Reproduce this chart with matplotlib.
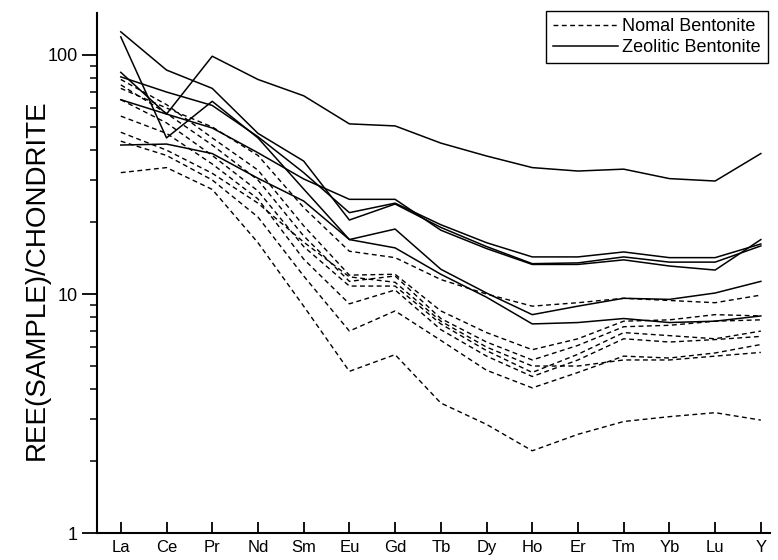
import numpy as np
import matplotlib.pyplot as plt
from matplotlib.ticker import FixedLocator, NullFormatter

plt.rcParams['font.family'] = ['Liberation Sans', 'DejaVu Sans']

elements = ["La", "Ce", "Pr", "Nd", "Sm", "Eu", "Gd", "Tb", "Dy", "Ho", "Er", "Tm", "Yb", "Lu", "Y"]

# normal bentonite (dashed)
nomal_1 = [72.5, 60, 50, 38, 23, 15.1, 14.2, 11.5, 10.0, 8.9, 9.2, 9.6, 9.4, 9.2, 9.9]
nomal_2 = [79, 62, 45, 33, 19.3, 12.0, 12.1, 8.5, 6.9, 5.85, 6.5, 7.7, 7.8, 8.2, 8.1]
nomal_3 = [75, 57, 42, 30, 17.5, 11.3, 11.9, 7.9, 6.3, 5.3, 6.1, 7.3, 7.4, 7.7, 7.8]
nomal_4 = [65, 52, 38, 27, 15.8, 10.8, 10.8, 7.5, 5.8, 4.7, 5.6, 6.9, 6.7, 6.5, 7.0]
nomal_5 = [55.5, 47, 35, 25, 14, 9.1, 10.4, 7.1, 5.5, 4.52, 5.3, 6.5, 6.3, 6.45, 6.65]
nomal_6 = [43.6, 38, 30, 21, 11.9, 7.0, 8.5, 6.4, 4.8, 4.05, 4.7, 5.5, 5.4, 5.67, 6.15]
nomal_7 = [47.5, 40, 32, 24, 16.5, 11.8, 11.2, 7.7, 6.0, 5.0, 5.0, 5.3, 5.3, 5.5, 5.7]
nomal_8 = [32.2, 33.8, 27.4, 16.4, 8.9, 4.75, 5.58, 3.5, 2.85, 2.21, 2.59, 2.93, 3.07, 3.19, 2.97]

# zeolitic bentonite (solid)
zeo_1 = [84.6, 56.6, 98.8, 79, 67.5, 51.5, 50.5, 42.8, 37.8, 33.8, 32.7, 33.3, 30.4, 29.7, 38.7]
zeo_2 = [125, 86.5, 72.5, 47, 36, 20.4, 23.8, 19.0, 15.8, 13.4, 13.5, 14.3, 13.6, 13.6, 15.9]
zeo_3 = [119, 45, 64, 45, 27.5, 16.9, 15.6, 12.1, 9.7, 7.5, 7.6, 7.9, 7.6, 7.7, 8.1]
zeo_4 = [81, 70, 61.5, 45.5, 32.2, 21.9, 24.0, 19.5, 16.4, 14.3, 14.3, 15.0, 14.2, 14.2, 16.2]
zeo_5 = [65, 56.6, 49.5, 39, 30.3, 24.9, 24.9, 18.5, 15.5, 13.3, 13.3, 13.9, 13.1, 12.6, 16.9]
zeo_6 = [42, 42.4, 38.7, 30.5, 24.5, 16.9, 18.7, 12.7, 10.1, 8.2, 8.9, 9.6, 9.5, 10.1, 11.3]

nomal = [nomal_1, nomal_2, nomal_3, nomal_4, nomal_5, nomal_6, nomal_7, nomal_8]
zeolitic = [zeo_1, zeo_2, zeo_3, zeo_4, zeo_5, zeo_6]

fig = plt.figure(figsize=(7.78, 5.60), dpi=100)
ax = fig.add_axes([0.1247, 0.048, 0.865, 0.929])

x = np.arange(len(elements))

for i, vals in enumerate(nomal):
    ax.plot(x, vals, color="black", lw=1.0, linestyle=(0, (3.5, 2.5)),
            label="Nomal Bentonite" if i == 0 else None)

for i, vals in enumerate(zeolitic):
    ax.plot(x, vals, color="black", lw=1.1,
            label="Zeolitic Bentonite" if i == 0 else None)

ax.set_yscale("log")
ax.set_ylim(1, 150)
ax.set_xlim(-0.52, 14.2)

ax.yaxis.set_major_locator(FixedLocator([1, 10, 100]))
ax.set_yticklabels(["1", "10", "100"])
ax.yaxis.set_minor_locator(FixedLocator([m * d for d in (1, 10, 100) for m in range(2, 10) if m * d < 150]))
ax.yaxis.set_minor_formatter(NullFormatter())

ax.set_xticks(x)
ax.set_xticklabels(elements)

ax.tick_params(axis="y", which="major", direction="out", length=11, width=1.3, labelsize=13, pad=3)
ax.tick_params(axis="y", which="minor", direction="out", length=5, width=1.1)
ax.tick_params(axis="x", which="major", direction="in", length=8, width=1.3, labelsize=12, pad=5)

for side in ("top", "right"):
    ax.spines[side].set_visible(False)
for side in ("left", "bottom"):
    ax.spines[side].set_linewidth(1.5)

ax.set_ylabel("REE(SAMPLE)/CHONDRITE", fontsize=20)
ax.yaxis.set_label_coords(-0.07, 0.487)

leg = ax.legend(loc="upper right", bbox_to_anchor=(0.987, 0.980),
                bbox_transform=fig.transFigure, fontsize=13, frameon=True,
                fancybox=False, framealpha=1, edgecolor="black",
                handlelength=3.6, handletextpad=0.2, borderpad=0.4,
                labelspacing=0.2, borderaxespad=0)
leg.get_frame().set_linewidth(1.0)

fig.savefig("out.png", dpi=100)
